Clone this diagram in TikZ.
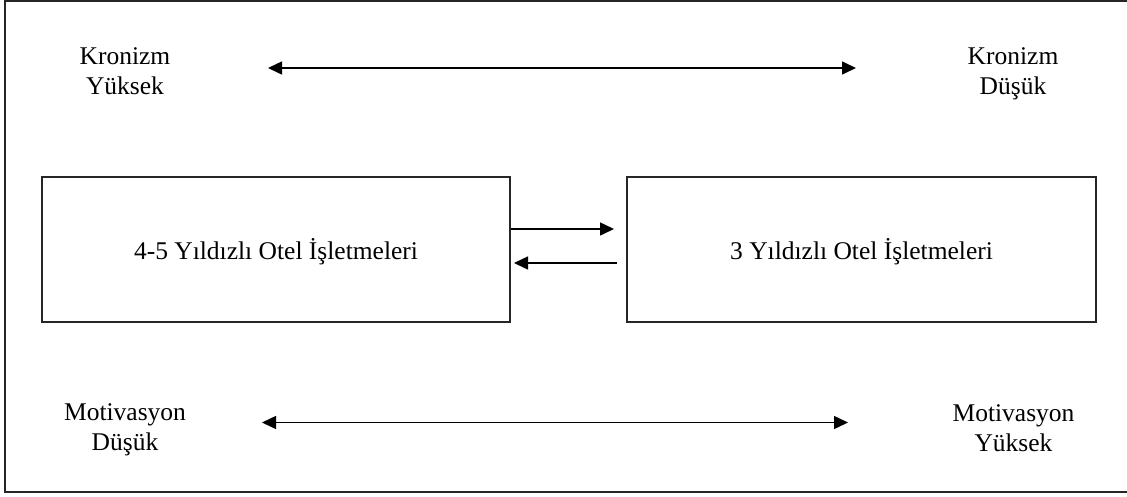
\documentclass[tikz,border=0pt]{standalone}
\usepackage{fontspec}
\setmainfont{Liberation Serif}
\usetikzlibrary{arrows.meta}
\begin{document}
\begin{tikzpicture}[x=1pt,y=-1pt,
  lbl/.style={font=\fontsize{25.5}{30}\selectfont,align=center,anchor=base,inner sep=0pt},
  boxtxt/.style={font=\fontsize{25.5}{30}\selectfont,anchor=base,inner sep=0pt},
  frame/.style={draw=black!85,line width=1.5pt},
  conn/.style={line width=1.5pt,-{Triangle[length=14pt,width=13pt]}},
  dconn/.style={line width=1.5pt,{Triangle[length=14pt,width=13pt]}-{Triangle[length=14pt,width=13pt]}}]
\useasboundingbox (0,0) rectangle (1127,496);
\draw[frame] (5,1) rectangle (1135,492);
% boxes
\draw[frame] (42,177) rectangle (510,322);
\draw[frame] (627,177) rectangle (1096,322);
\node[boxtxt] (b1) at (276,259) {4-5 Yıldızlı Otel İşletmeleri};
\node[boxtxt] (b2) at (861.5,259) {3 Yıldızlı Otel İşletmeleri};
% labels
\node[lbl] (kl) at (125,94.5) {Kronizm\\Yüksek};
\node[lbl] (kr) at (1013,94.5) {Kronizm\\Düşük};
\node[lbl] (ml) at (125,450.5) {Motivasyon\\Düşük};
\node[lbl] (mr) at (1013.5,451.5) {Motivasyon\\Yüksek};
% arrow end points
\coordinate (t1) at (268,68);
\coordinate (t2) at (856,68);
\coordinate (d1) at (262,422.5);
\coordinate (d2) at (848,422.5);
\coordinate (a1) at (511,229);
\coordinate (a2) at (614,229);
\coordinate (c1) at (617,263);
\coordinate (c2) at (514,263);
\draw[dconn] (t1) -- (t2);
\draw[dconn] (d1) -- (d2);
\draw[conn] (a1) -- (a2);
\draw[conn] (c1) -- (c2);
\end{tikzpicture}
\end{document}
